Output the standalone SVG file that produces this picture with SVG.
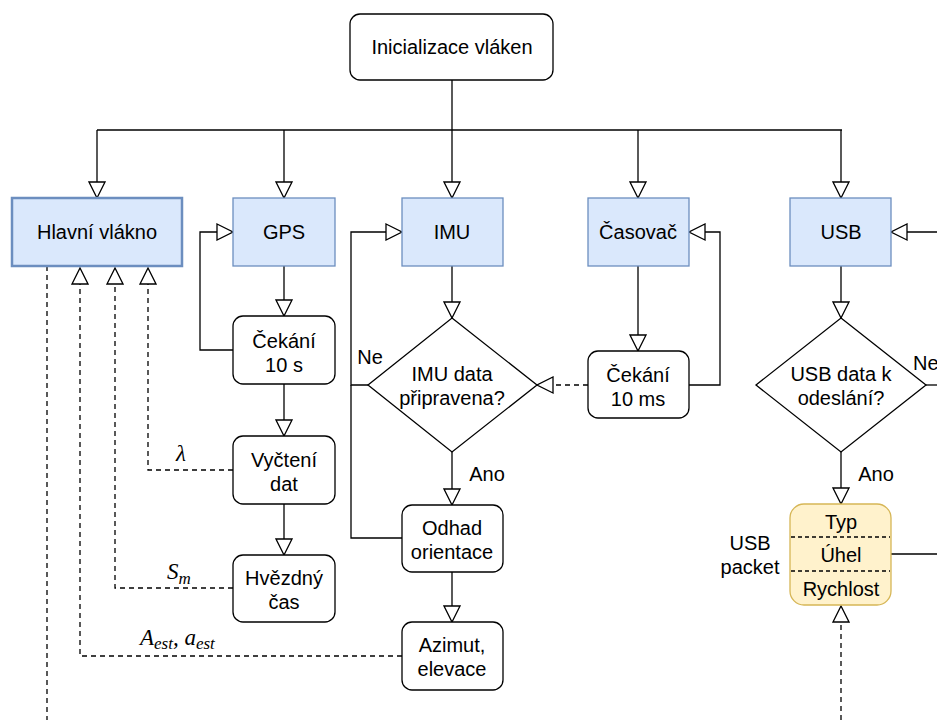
<svg xmlns="http://www.w3.org/2000/svg" width="937" height="720" viewBox="0 0 937 720">
<style>
text{font-family:"Liberation Sans",Arial,sans-serif;font-size:20px;fill:#000;text-anchor:middle}
.m{font-family:"Liberation Serif","Times New Roman",serif;font-style:italic;font-size:23px;text-anchor:start}
.sub{font-size:17px}
.blue{fill:#dae8fc;stroke:#6c8ebf;stroke-width:1.3}
.box{fill:#fff;stroke:#000;stroke-width:1.3}
.yel{fill:#fff2cc;stroke:#d6b656;stroke-width:1.3}
.c{fill:none;stroke:#000;stroke-width:1.3}
.d{fill:none;stroke:#000;stroke-width:1.3;stroke-dasharray:5,4}
.a{marker-end:url(#arr)}
</style>
<defs>
<marker id="arr" markerUnits="userSpaceOnUse" viewBox="0 0 18 18" refX="17" refY="9" markerWidth="18" markerHeight="18" orient="auto">
<path d="M1,1 L17,9 L1,17 Z" fill="#fff" stroke="#000" stroke-width="1.3"/>
</marker>
</defs>
<g id="connectors">
<path class="c" d="M452,80 V130"/>
<path class="c" d="M97,130 H842"/>
<path class="c a" d="M97,130 V198"/>
<path class="c a" d="M284,130 V198"/>
<path class="c a" d="M452,130 V198"/>
<path class="c a" d="M638,130 V198"/>
<path class="c a" d="M841,130 V198"/>
<path class="c a" d="M284,266 V316"/>
<path class="c a" d="M233,350 H200 V232 H233"/>
<path class="c a" d="M284,384 V436"/>
<path class="c a" d="M284,504 V555"/>
<path class="d a" d="M233,470 H148 V268"/>
<path class="d a" d="M233,588 H115 V268"/>
<path class="d a" d="M402,656 H80 V268"/>
<path class="d" d="M47,266 V720"/>
<path class="c a" d="M452,266 V318"/>
<path class="c a" d="M368,385 H351 V232 H402"/>
<path class="c" d="M402,538 H351 V385"/>
<path class="c a" d="M452,452 V505"/>
<path class="c a" d="M452,572 V622"/>
<path class="c a" d="M638,266 V351"/>
<path class="c a" d="M689,385 H720 V232 H689"/>
<path class="d a" d="M588,385 H537"/>
<path class="c a" d="M841,266 V318"/>
<path class="c" d="M926,385 H937"/>
<path class="c a" d="M937,232 H891"/>
<path class="c a" d="M841,452 V504"/>
<path class="c" d="M891,554 H937"/>
<path class="d a" d="M841,720 V606"/>
</g>
<g id="labels">
<text x="370" y="364">Ne</text>
<text x="487" y="481">Ano</text>
<text x="876" y="481">Ano</text>
<text x="913" y="370" style="text-anchor:start">Ne</text>
<text x="750" y="550">USB</text>
<text x="750" y="574">packet</text>
<text class="m" x="176" y="461">λ</text>
<text class="m" x="167" y="579">S<tspan class="sub" dy="5">m</tspan></text>
<text class="m" x="140" y="645">A<tspan class="sub" dy="4">est</tspan><tspan dy="-4">, a</tspan><tspan class="sub" dy="4">est</tspan></text>
</g>
<g id="init"><rect class="box" x="350" y="14" width="203" height="66" rx="10"/><text x="452" y="54">Inicializace vláken</text></g>
<g id="hlavni"><rect class="blue" x="12" y="198" width="170" height="68" style="stroke-width:2.5"/><text x="97" y="239">Hlavní vlákno</text></g>
<g id="gps"><rect class="blue" x="233" y="198" width="102" height="68"/><text x="284" y="239">GPS</text></g>
<g id="imu"><rect class="blue" x="402" y="198" width="101" height="68"/><text x="452" y="239">IMU</text></g>
<g id="casovac"><rect class="blue" x="588" y="198" width="101" height="68"/><text x="638" y="239">Časovač</text></g>
<g id="usb"><rect class="blue" x="790" y="198" width="101" height="68"/><text x="841" y="239">USB</text></g>
<g id="cekani10s"><rect class="box" x="233" y="316" width="102" height="68" rx="10"/><text x="284" y="348">Čekání</text><text x="284" y="372">10 s</text></g>
<g id="vycteni"><rect class="box" x="233" y="436" width="102" height="68" rx="10"/><text x="284" y="467">Vyčtení</text><text x="284" y="491">dat</text></g>
<g id="hvezdny"><rect class="box" x="233" y="555" width="102" height="67" rx="10"/><text x="284" y="585">Hvězdný</text><text x="284" y="609">čas</text></g>
<g id="imudiamond"><path class="box" d="M452,318 L537,385 L452,452 L368,385 Z"/><text x="452" y="381">IMU data</text><text x="452" y="405">připravena?</text></g>
<g id="odhad"><rect class="box" x="402" y="505" width="101" height="67" rx="10"/><text x="452" y="535">Odhad</text><text x="452" y="559">orientace</text></g>
<g id="azimut"><rect class="box" x="402" y="622" width="101" height="68" rx="10"/><text x="452" y="652">Azimut,</text><text x="452" y="676">elevace</text></g>
<g id="cekani10ms"><rect class="box" x="588" y="351" width="101" height="67" rx="10"/><text x="638" y="382">Čekání</text><text x="638" y="406">10 ms</text></g>
<g id="usbdiamond"><path class="box" d="M841,318 L926,385 L841,452 L756,385 Z"/><text x="841" y="381">USB data k</text><text x="841" y="405">odeslání?</text></g>
<g id="packet"><rect class="yel" x="790" y="504" width="101" height="101" rx="14"/>
<path class="d" d="M791,537 H890 M791,571 H890" style="stroke-dasharray:4,3"/>
<text x="841" y="529">Typ</text><text x="841" y="562">Úhel</text><text x="841" y="596">Rychlost</text></g>
</svg>
